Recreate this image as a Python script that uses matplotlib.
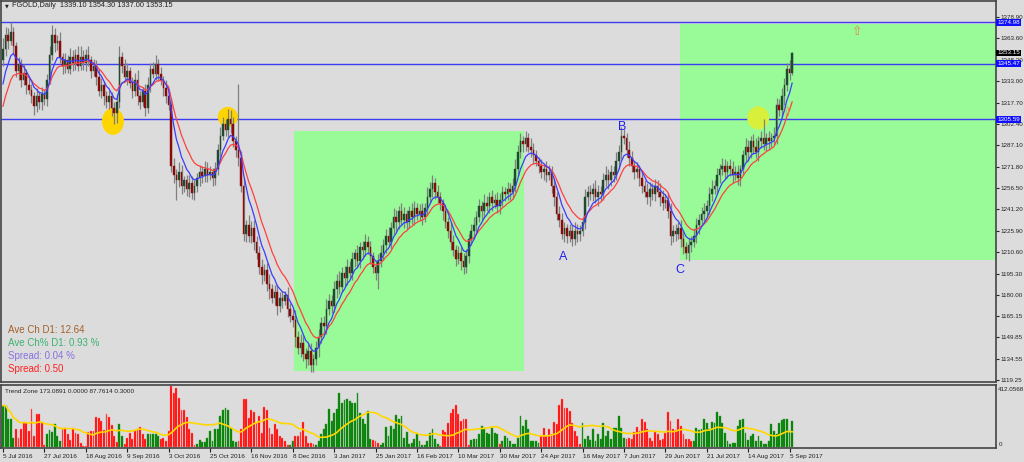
import numpy as np
import pandas as pd
import matplotlib
matplotlib.use('Agg')
import matplotlib.pyplot as plt
from matplotlib.patches import Rectangle, Ellipse
import matplotlib.transforms as mtransforms

plt.rcParams['font.family'] = ['Liberation Sans', 'DejaVu Sans']

# daily closes, 5 Jul 2016 .. 8 Sep 2017
close = [
    1356, 1366, 1362, 1368, 1358, 1340, 1345, 1334, 1339, 1330,
    1327, 1322, 1315, 1322, 1318, 1324, 1320, 1334, 1352, 1366,
    1360, 1362, 1350, 1344, 1348, 1342, 1350, 1346, 1352, 1344,
    1350, 1346, 1352, 1348, 1340, 1344, 1336, 1326, 1330, 1322,
    1318, 1322, 1314, 1310, 1318, 1350, 1344, 1336, 1340, 1332,
    1326, 1334, 1322, 1318, 1326, 1314, 1330, 1342, 1338, 1345,
    1338, 1334, 1328, 1322, 1316, 1272, 1266, 1262, 1268, 1258,
    1262, 1256, 1260, 1253, 1258, 1264, 1268, 1265, 1270, 1266,
    1268, 1264, 1270, 1284, 1294, 1302, 1298, 1306, 1302, 1290,
    1284, 1278, 1258, 1224, 1230, 1222, 1228, 1218, 1210, 1200,
    1194, 1198, 1188, 1184, 1178, 1182, 1172, 1178, 1176, 1180,
    1170, 1165, 1162, 1150, 1142, 1146, 1138, 1134, 1140, 1130,
    1134, 1142, 1150, 1160, 1158, 1170, 1176, 1172, 1184, 1190,
    1186, 1196, 1192, 1200, 1196, 1206, 1210, 1204, 1214, 1212,
    1218, 1214, 1208, 1200, 1196, 1204, 1210, 1216, 1222, 1218,
    1228, 1236, 1232, 1240, 1234, 1238, 1232, 1240, 1236, 1242,
    1238, 1240, 1236, 1242, 1250, 1256, 1260, 1254, 1250, 1246,
    1240, 1232, 1226, 1218, 1212, 1206, 1210, 1204, 1200, 1208,
    1220, 1226, 1230, 1236, 1244, 1240, 1246, 1244, 1250, 1246,
    1248, 1244, 1248, 1254, 1252, 1256, 1254, 1258, 1270, 1282,
    1290, 1288, 1292, 1286, 1284, 1280, 1276, 1272, 1268, 1270,
    1266, 1268, 1258, 1250, 1238, 1234, 1224, 1228, 1222, 1226,
    1220, 1226, 1224, 1226, 1232, 1250, 1254, 1252, 1256, 1250,
    1254, 1252, 1262, 1266, 1262, 1268, 1266, 1276, 1282, 1294,
    1292, 1284, 1278, 1272, 1268, 1270, 1264, 1258, 1254, 1250,
    1256, 1252, 1258, 1254, 1250, 1246, 1248, 1240, 1222, 1226,
    1224, 1228, 1220, 1214, 1210, 1216, 1218, 1222, 1230, 1234,
    1238, 1240, 1244, 1252, 1256, 1258, 1266, 1270, 1272, 1268,
    1272, 1270, 1266, 1268, 1264, 1270, 1280, 1286, 1282, 1290,
    1286, 1282, 1290, 1292, 1288, 1292, 1290, 1292, 1294, 1316,
    1312, 1322, 1330, 1342, 1339.1, 1353.15,
]
first_open = 1348
# closes before the window, only used to warm up the averages
prior_close = [1268, 1262, 1266, 1270, 1263, 1258, 1262, 1268,
               1292, 1318, 1324, 1314, 1320, 1322, 1340, 1342]

wick_up = [
    8, 6, 5, 7, 4, 3, 5, 4, 6, 3, 5, 4, 3, 6, 4, 5, 3, 4, 6, 7,
    5, 4, 6, 3, 5, 4, 7, 5, 4, 6, 8, 5, 4, 6, 3, 5, 4, 6, 5, 3,
    4, 5, 3, 4, 6, 8, 4, 5, 6, 3, 4, 5, 7, 4, 3, 5, 6, 4, 5, 7,
    4, 5, 3, 6, 4, 5, 6, 4, 7, 5, 3, 4, 6, 5, 4, 3, 5, 4, 6, 5,
    4, 3, 5, 4, 6, 5, 4, 7, 6, 5, 4, 47, 5, 6, 4, 7, 5, 6, 4, 5,
    6, 4, 5, 7, 4, 5, 6, 4, 5, 3, 6, 4, 5, 7, 4, 6, 5, 4, 5, 6,
    4, 5, 6, 4, 5, 7, 5, 4, 6, 5, 7, 4, 5, 6, 4, 5, 3, 6, 4, 5,
    6, 4, 5, 3, 4, 5, 6, 4, 5, 7, 4, 6, 5, 4, 6, 5, 3, 4, 6, 5,
    4, 5, 6, 4, 7, 5, 6, 4, 5, 4, 3, 5, 4, 6, 5, 4, 5, 4, 6, 5,
    4, 5, 6, 4, 5, 3, 6, 5, 4, 5, 4, 6, 5, 4, 3, 5, 4, 6, 7, 5,
    6, 4, 5, 4, 6, 5, 4, 3, 5, 4, 6, 5, 4, 5, 4, 6, 5, 4, 3, 5,
    4, 6, 5, 4, 3, 6, 4, 5, 4, 6, 5, 4, 5, 6, 4, 5, 4, 6, 5, 6,
    5, 4, 6, 5, 4, 5, 3, 5, 4, 6, 5, 4, 5, 4, 6, 5, 4, 5, 6, 4,
    5, 4, 6, 5, 4, 5, 4, 6, 5, 4, 5, 6, 4, 5, 6, 4, 5, 4, 6, 5,
    4, 5, 6, 4, 5, 3, 4, 6, 5, 4, 5, 6, 4, 5, 14, 4, 5, 4, 6, 5,
    4, 6, 5, 4, 6, 1,
]
wick_dn = [
    4, 5, 6, 3, 5, 4, 6, 5, 4, 6, 3, 5, 6, 4, 5, 6, 4, 5, 3, 4,
    6, 5, 4, 6, 5, 3, 4, 6, 5, 4, 3, 5, 6, 4, 5, 3, 6, 4, 5, 6,
    4, 5, 6, 8, 7, 4, 5, 3, 6, 4, 5, 4, 6, 5, 3, 6, 4, 5, 3, 4,
    5, 4, 6, 5, 4, 4, 6, 14, 5, 6, 4, 5, 6, 4, 5, 4, 6, 5, 4, 5,
    4, 6, 5, 4, 5, 3, 4, 5, 6, 4, 5, 6, 4, 5, 6, 4, 5, 6, 4, 5,
    6, 4, 5, 7, 4, 5, 6, 4, 5, 3, 6, 4, 5, 7, 4, 6, 5, 6, 4, 5,
    5, 4, 6, 4, 5, 6, 4, 5, 4, 6, 5, 4, 6, 5, 4, 5, 6, 4, 5, 6,
    4, 5, 6, 4, 5, 12, 4, 5, 6, 4, 5, 4, 6, 5, 4, 6, 5, 4, 5, 6,
    4, 5, 6, 4, 5, 4, 6, 5, 4, 5, 6, 4, 5, 6, 4, 5, 4, 6, 5, 4,
    5, 4, 6, 5, 4, 6, 5, 4, 5, 6, 4, 5, 6, 4, 5, 4, 6, 5, 4, 5,
    4, 6, 5, 4, 5, 6, 4, 5, 4, 6, 5, 4, 5, 6, 4, 5, 4, 6, 5, 4,
    5, 4, 6, 5, 4, 5, 6, 4, 5, 4, 6, 5, 4, 5, 6, 4, 5, 4, 6, 5,
    4, 5, 6, 4, 5, 4, 6, 5, 4, 5, 6, 4, 5, 4, 6, 5, 4, 5, 6, 4,
    5, 4, 6, 5, 4, 6, 5, 4, 5, 6, 4, 5, 4, 6, 5, 4, 5, 6, 4, 5,
    4, 5, 6, 4, 5, 6, 4, 5, 6, 4, 5, 4, 6, 5, 4, 5, 6, 4, 5, 6,
    4, 5, 6, 4, 5, 2,
]

# Trend Zone histogram (negative = red bar)
trend_zone = [
    280, 280, 190, 190, 63, -124, -63, -124, -171, -160,
    -108, -254, -74, -225, -220, -164, -11, 90, 112, 100,
    153, 74, 40, -130, -130, -85, -45, -130, -97, -85,
    -25, -8, -8, -100, -108, -108, -205, -198, -175, -112,
    -225, -205, -146, -74, -34, 153, 74, -18, -63, -97,
    -52, -108, -124, -137, -85, -52, 90, 90, 90, 85,
    74, -52, -63, -40, -108, -412, -367, -400, -333, -250,
    -250, -205, -119, -97, -11, 18, 47, 34, 34, 63,
    108, 40, 124, 119, 209, 250, 265, 250, 130, 40,
    34, -40, -119, -326, -322, -198, -250, -236, -164, -209,
    -97, -272, -250, -130, -85, -153, -119, -74, -63, -40,
    -11, 11, 40, -74, -74, -101, -169, -74, -25, -29,
    -18, 11, 40, 85, 119, 153, 254, 175, 232, 254,
    362, 299, 317, 322, 310, 299, 295, 362, 232, 187,
    153, 243, 52, -47, -40, -25, 11, 25, 137, 74,
    142, 119, 214, 187, 209, 63, 101, 18, 25, 52,
    85, 40, 11, 11, 40, 97, 124, 52, 18, -6,
    -112, -101, -164, -227, -254, -281, -225, -175, -187, -187,
    -11, 47, 52, 52, 85, 142, 130, 97, 85, 130,
    92, 85, -18, 40, 74, 63, 40, 18, 18, 63,
    209, 142, 182, 119, 40, 40, 40, 25, -74, -130,
    -74, -119, -85, -169, -153, -281, -322, -265, -265, -243,
    -164, -108, -74, -18, 160, 52, 74, 47, 119, 40,
    85, 52, 160, 74, 108, 56, 130, 130, 209, 130,
    63, -52, -63, -52, -101, -137, -108, -187, -169, -119,
    -63, -40, -108, -85, -47, -52, -97, -236, -175, -119,
    -115, -191, -142, -85, -56, -52, -40, 40, 130, 115,
    124, 187, 164, 119, 171, 164, 236, 209, 164, 97,
    40, 18, 29, 29, 142, 182, 187, 92, 47, 74,
    85, 40, 74, 40, 18, 18, 40, 153, 108, 85,
    160, 182, 187, 187, 108, 173,
]

date_labels = ['5 Jul 2016', '27 Jul 2016', '18 Aug 2016', '9 Sep 2016', '3 Oct 2016',
               '25 Oct 2016', '16 Nov 2016', '8 Dec 2016', '3 Jan 2017', '25 Jan 2017',
               '16 Feb 2017', '10 Mar 2017', '30 Mar 2017', '24 Apr 2017', '16 May 2017',
               '7 Jun 2017', '29 Jun 2017', '21 Jul 2017', '14 Aug 2017', '5 Sep 2017']
price_ticks = [1378.90, 1363.60, 1348.30, 1333.00, 1317.70, 1302.40, 1287.10, 1271.80,
               1256.50, 1241.20, 1225.90, 1210.60, 1195.30, 1180.00, 1165.15, 1149.85,
               1134.55, 1119.25]
level_lines = [1374.98, 1345.47, 1305.59]
last_price = 1353.15
info_lines = ['Ave Ch D1: 12.64', 'Ave Ch% D1: 0.93 %', 'Spread: 0.04 %', 'Spread: 0.50']

# ---------------------------------------------------------------
n = len(close)
idx = np.arange(n)
c = np.array(close, dtype=float)
o = np.concatenate([[first_open], c[:-1]])
hi = np.maximum(o, c) + np.array(wick_up)
lo = np.minimum(o, c) - np.array(wick_dn)

full = pd.Series(prior_close + close, dtype=float)
ma_fast = full.ewm(span=7, adjust=False).mean().values[len(prior_close):]
ma_slow = full.ewm(span=13, adjust=False).mean().values[len(prior_close):]

tz = np.array(trend_zone, dtype=float)
tz_line = pd.Series(np.abs(tz)).rolling(20, min_periods=1).mean().values

BG = '#dcdcdc'
fig = plt.figure(figsize=(10.24, 4.62), dpi=100, facecolor=BG)
ax = fig.add_axes([1 / 1024, 80 / 462, 995 / 1024, 381 / 462], facecolor=BG)
ax2 = fig.add_axes([1 / 1024, 14 / 462, 995 / 1024, 63 / 462], facecolor=BG)

xmin, xmax = -0.77, 383.8
ax.set_xlim(xmin, xmax)
ax.set_ylim(1117.8, 1390.3)
ax2.set_xlim(xmin, xmax)
ax2.set_ylim(-7, 419)

for a in (ax, ax2):
    for s in a.spines.values():
        s.set_color('#444444')
        s.set_linewidth(1.2)

# zones
ax.add_patch(Rectangle((112.4, 1125.7), 201.2 - 112.4, 1297.4 - 1125.7,
                       facecolor='#98fb98', edgecolor='none', zorder=0.5))
ax.add_patch(Rectangle((261.8, 1205.1), xmax - 261.8, 1374.2 - 1205.1,
                       facecolor='#98fb98', edgecolor='none', zorder=0.5))

# horizontal levels
for lv in level_lines:
    ax.axhline(lv, color='#3c3cf0', lw=1.0, zorder=1)

# yellow marks
ax.add_patch(Ellipse((42.5, 1304.2), 8.5, 19.3, facecolor='#ffd500', edgecolor='none', zorder=1.5))
ax.add_patch(Ellipse((86.9, 1307.4), 7.7, 14.3, facecolor='#ffd500', edgecolor='none', zorder=1.5))
ax.add_patch(Ellipse((291.9, 1306.7), 8.5, 16.5, facecolor='#d8ef3c', edgecolor='none', zorder=1.5))

# candles
bull = c >= o
ax.vlines(idx, lo, hi, color='#808080', lw=0.9, zorder=2)
body_lo = np.minimum(o, c)
body_h = np.maximum(np.abs(c - o), 0.4)
ax.bar(idx[bull], body_h[bull], bottom=body_lo[bull], width=0.62,
       color='#1f4a30', edgecolor='#1f4a30', lw=0.3, zorder=3)
ax.bar(idx[~bull], body_h[~bull], bottom=body_lo[~bull], width=0.62,
       color='#8a0a0a', edgecolor='#8a0a0a', lw=0.3, zorder=3)

# moving averages
ax.plot(idx, ma_slow, color='#ff4040', lw=0.9, zorder=4)
ax.plot(idx, ma_fast, color='#3c3cff', lw=0.9, zorder=4)

# labels A B C and arrows
for lab, xi, yp in [('A', 216.6, 1207), ('B', 239.4, 1300), ('C', 261.8, 1198)]:
    ax.text(xi, yp, lab, color='#2020f0', fontsize=9, ha='center', va='center', zorder=5)
for xi, yp in [(330, 1368.2), (303, 1310.2)]:
    ax.text(xi, yp, '\u21e7', color='#e08848', fontsize=9, ha='center', va='center',
            family='DejaVu Sans', zorder=5)

# price axis
ax.yaxis.tick_right()
ax.set_yticks(price_ticks)
ax.set_yticklabels(['%.2f' % p for p in price_ticks])
ax.tick_params(axis='y', labelsize=4.5, length=2, pad=1, colors='#222222')
ax.set_xticks([])

trans = mtransforms.blended_transform_factory(ax.transAxes, ax.transData)
for lv in level_lines:
    ax.text(1.001, lv, '%.2f' % lv, transform=trans, fontsize=4.5, color='white',
            va='center', ha='left', clip_on=False, zorder=6,
            bbox=dict(boxstyle='square,pad=0.15', facecolor='#1010ff', edgecolor='none'))
ax.text(1.001, last_price, '%.2f' % last_price, transform=trans, fontsize=4.5, color='white',
        va='center', ha='left', clip_on=False, zorder=6,
        bbox=dict(boxstyle='square,pad=0.15', facecolor='black', edgecolor='none'))

# title
ax.text(0.004, 0.987, '\u25bc', transform=ax.transAxes, fontsize=3.5, color='#222222',
        va='center', ha='left', family='DejaVu Sans')
ax.text(0.011, 0.987, 'FGOLD,Daily  1339.10 1354.30 1337.00 1353.15', transform=ax.transAxes,
        fontsize=5.3, color='#222222', va='center', ha='left')

# info text
info_colors = ['#a0622d', '#3cb371', '#8a70e0', '#ff2020']
for k, (txt, col) in enumerate(zip(info_lines, info_colors)):
    ax.text(0.007, 0.1365 - k * 0.0345, txt, transform=ax.transAxes, fontsize=7,
            color=col, va='center', ha='left')

# lower panel
up = tz >= 0
ax2.bar(idx[up], tz[up], width=0.72, color='#008000', edgecolor='#3a9a3a', lw=0.3)
ax2.bar(idx[~up], -tz[~up], width=0.72, color='#ff0000', edgecolor='#ff8080', lw=0.3)
ax2.plot(idx, tz_line, color='#ffd700', lw=1.2)
ax2.set_yticks([])
ax2.text(1.002, 0.93, '412.0568', transform=ax2.transAxes, fontsize=4.5, color='#222222',
         va='center', ha='left', clip_on=False)
ax2.text(1.003, 0.05, '0', transform=ax2.transAxes, fontsize=4.5, color='#222222',
         va='center', ha='left', clip_on=False)
ax2.text(0.004, 0.9, 'Trend Zone 173.0891 0.0000 87.7614 0.3000', transform=ax2.transAxes,
         fontsize=4.6, color='#222222', va='center', ha='left')

ax2.set_xticks(np.arange(len(date_labels)) * 16)
ax2.set_xticklabels(date_labels, ha='left')
ax2.tick_params(axis='x', labelsize=4.6, length=3, pad=1, colors='#222222')

fig.savefig('out.png', dpi=100, facecolor=BG)
